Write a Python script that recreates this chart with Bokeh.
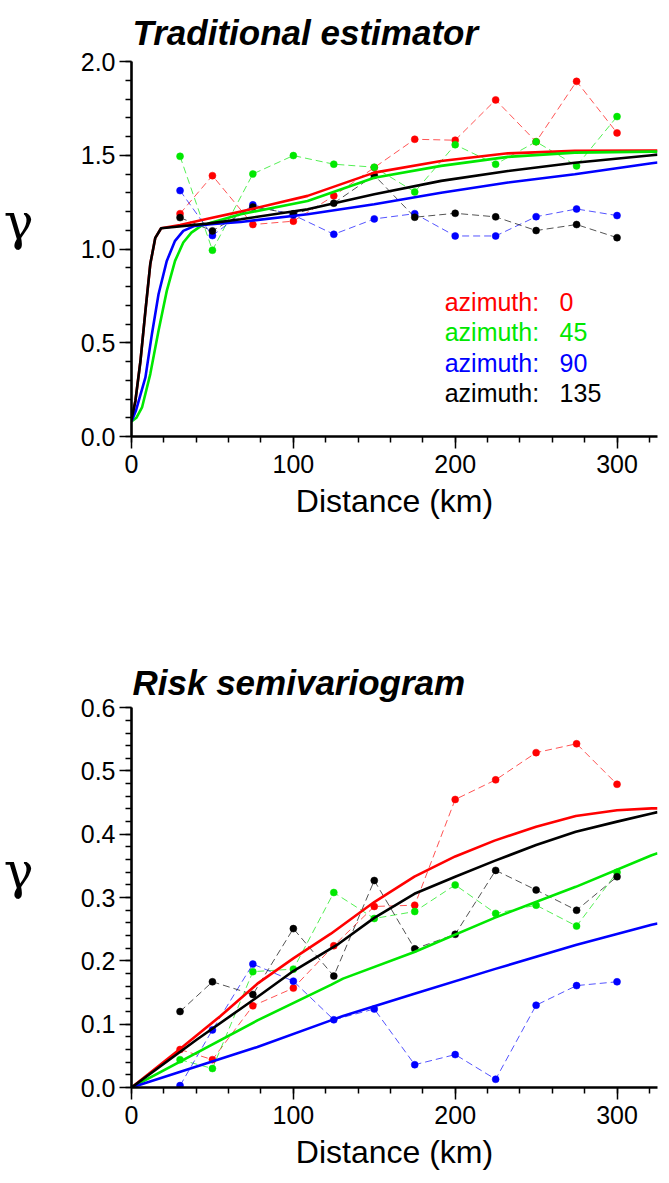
from bokeh.plotting import figure
from bokeh.layouts import column
from bokeh.models import Range1d, SingleIntervalTicker, PrintfTickFormatter
from bokeh.core.properties import value
from bokeh.embed import file_html
from bokeh.resources import INLINE

# ---------------- data ----------------
lags = [30, 50, 75, 100, 125, 150, 175, 200, 225, 250, 275, 300]
azimuths = [0, 45, 90, 135]
colors = ["#ff0000", "#00e800", "#0000ff", "#000000"]

# Traditional estimator: experimental values
trad_obs_0 = [1.189, 1.392, 1.131, 1.149, 1.284, 1.435, 1.586, 1.581, 1.796, 1.573, 1.895, 1.620]
trad_obs_45 = [1.495, 0.994, 1.401, 1.499, 1.453, 1.437, 1.305, 1.557, 1.453, 1.573, 1.444, 1.707]
trad_obs_90 = [1.312, 1.072, 1.236, 1.182, 1.079, 1.161, 1.189, 1.070, 1.070, 1.173, 1.214, 1.179]
trad_obs_135 = [1.168, 1.097, 1.225, 1.188, 1.245, 1.394, 1.170, 1.191, 1.172, 1.099, 1.131, 1.061]

# Traditional estimator: fitted models
trad_fit_x_0 = [0, 2.4, 5.5, 8.6, 11.6, 14.7, 18.3, 30, 47, 67.5, 108.8, 150, 191.3, 232.6, 273.9, 321.4, 325]
trad_fit_y_0 = [0.09, 0.19, 0.40, 0.67, 0.92, 1.06, 1.111, 1.128, 1.162, 1.200, 1.284, 1.408, 1.470, 1.511, 1.524, 1.526, 1.526]
trad_fit_x_45 = [0, 3, 6.5, 11.6, 16.7, 21.8, 26.9, 32, 37, 43, 49, 67.5, 108.8, 150, 191.3, 232.6, 273.9, 321.4, 325]
trad_fit_y_45 = [0.08, 0.10, 0.155, 0.333, 0.564, 0.777, 0.937, 1.035, 1.088, 1.124, 1.141, 1.186, 1.257, 1.381, 1.444, 1.492, 1.515, 1.520, 1.520]
trad_fit_x_90 = [0, 2.7, 8.6, 12.6, 16.7, 21.8, 26.9, 32, 39, 49, 67.5, 108.8, 150, 191.3, 232.6, 273.9, 321.4, 325]
trad_fit_y_90 = [0.08, 0.137, 0.315, 0.546, 0.759, 0.937, 1.044, 1.097, 1.124, 1.133, 1.145, 1.186, 1.239, 1.301, 1.355, 1.399, 1.458, 1.462]
trad_fit_x_135 = [0, 2.4, 5.5, 8.6, 11.6, 14.7, 18.3, 47, 67.5, 108.8, 150, 191.3, 232.6, 273.9, 321.4, 325]
trad_fit_y_135 = [0.09, 0.19, 0.40, 0.67, 0.92, 1.06, 1.111, 1.136, 1.159, 1.213, 1.293, 1.364, 1.417, 1.461, 1.501, 1.504]

# Risk semivariogram: experimental values
risk_obs_0 = [0.060, 0.044, 0.129, 0.157, 0.224, 0.286, 0.288, 0.455, 0.486, 0.529, 0.543, 0.479]
risk_obs_45 = [0.044, 0.030, 0.183, 0.187, 0.308, 0.267, 0.278, 0.320, 0.275, 0.288, 0.255, 0.340]
risk_obs_90 = [0.003, 0.091, 0.195, 0.168, 0.107, 0.124, 0.036, 0.052, 0.013, 0.130, 0.161, 0.167]
risk_obs_135 = [0.120, 0.167, 0.147, 0.251, 0.176, 0.327, 0.219, 0.242, 0.343, 0.312, 0.280, 0.333]

# Risk semivariogram: fitted models
risk_fit_x_0 = [0, 29, 55, 77.8, 100, 123.2, 150, 174.8, 200, 224.3, 250, 274.5, 300, 321.4, 325]
risk_fit_y_0 = [0, 0.059, 0.113, 0.164, 0.204, 0.243, 0.293, 0.333, 0.365, 0.390, 0.412, 0.429, 0.438, 0.441, 0.441]
risk_fit_x_45 = [0, 77.8, 123.2, 130.7, 174.8, 224.3, 274.5, 321.4, 325]
risk_fit_y_45 = [0, 0.106, 0.162, 0.172, 0.214, 0.268, 0.317, 0.367, 0.370]
risk_fit_x_90 = [0, 77.8, 123.2, 130.7, 174.8, 224.3, 274.5, 321.4, 325]
risk_fit_y_90 = [0, 0.064, 0.106, 0.113, 0.148, 0.187, 0.225, 0.257, 0.259]
risk_fit_x_135 = [0, 40, 77.8, 100, 128, 150, 174.8, 200, 224.3, 250, 274.5, 300, 321.4, 325]
risk_fit_y_135 = [0, 0.075, 0.143, 0.184, 0.227, 0.268, 0.306, 0.333, 0.358, 0.383, 0.404, 0.420, 0.433, 0.435]

FONT = "Liberation Sans"


def make_panel(title, obs_list, fit_list, y_max, y_major, y_fmt,
               top_border, frame_h, bottom_border, title_standoff, legend=False):
    p = figure(frame_width=526, frame_height=frame_h,
               min_border_left=131, min_border_right=4,
               min_border_top=top_border, min_border_bottom=bottom_border,
               x_range=Range1d(0, 325), y_range=Range1d(0, y_max * 1.0005),
               output_backend="svg", toolbar_location=None)
    p.outline_line_color = None
    p.grid.visible = False
    p.background_fill_color = "white"
    p.border_fill_color = "white"

    p.title.text = title
    p.title.text_font = FONT
    p.title.text_font_size = "35px"
    p.title.text_font_style = "bold italic"
    p.title.text_color = "black"
    p.title.align = "left"
    p.title.offset = 1
    p.title.standoff = title_standoff

    for obs, col in zip(obs_list, colors):
        p.line(lags, obs, line_color=col, line_width=0.8, line_dash="7 4", line_alpha=0.85)
        p.scatter(lags, obs, size=7, fill_color=col, line_color=col, line_width=0.5)
    for (fx, fy), col in zip(fit_list, colors):
        p.line(fx, fy, line_color=col, line_width=2.6)

    xa = p.xaxis[0]
    xa.ticker = SingleIntervalTicker(interval=100, num_minor_ticks=5)
    xa.axis_label = "Distance (km)"
    xa.axis_label_text_font = FONT
    xa.axis_label_text_font_size = "32px"
    xa.axis_label_text_font_style = "normal"
    xa.axis_label_text_color = "black"
    xa.axis_label_standoff = 7
    xa.major_label_standoff = 6

    ya = p.yaxis[0]
    ya.ticker = SingleIntervalTicker(interval=y_major, num_minor_ticks=5)
    ya.formatter = PrintfTickFormatter(format=y_fmt)
    ya.major_label_standoff = 4
    ya.axis_label = "γ\n "
    ya.axis_label_text_font = "DejaVu Serif"
    ya.axis_label_text_font_size = "50px"
    ya.axis_label_text_font_style = "normal"
    ya.axis_label_text_color = "black"
    ya.axis_label_text_line_height = 0.92
    ya.axis_label_standoff = 44
    try:
        ya.axis_label_orientation = "horizontal"
    except Exception:
        pass

    for ax in (xa, ya):
        ax.axis_line_width = 2.6
        ax.axis_line_color = "black"
        ax.major_tick_line_width = 1.5
        ax.minor_tick_line_width = 1.5
        ax.major_tick_line_color = "black"
        ax.minor_tick_line_color = "black"
        ax.major_tick_out = 12
        ax.major_tick_in = 0
        ax.minor_tick_out = 6
        ax.minor_tick_in = 0
        ax.major_label_text_font = FONT
        ax.major_label_text_font_size = "25px"
        ax.major_label_text_color = "black"

    if legend:
        name_x = 193.5
        num_x = 264.5
        step = y_max * 0.0815
        base = y_max * 0.0335
        for i, (az, col) in enumerate(zip(azimuths, colors)):
            yy = base + step * (len(azimuths) - i)
            p.text(x=[name_x], y=[yy], text=["azimuth:"], text_color=col,
                   text_font=value(FONT), text_font_size="25px",
                   text_baseline="alphabetic", text_align="left")
            p.text(x=[num_x], y=[yy], text=[str(az)], text_color=col,
                   text_font=value(FONT), text_font_size="25px",
                   text_baseline="alphabetic", text_align="left")
    return p


p1 = make_panel("Traditional estimator",
                [trad_obs_0, trad_obs_45, trad_obs_90, trad_obs_135],
                [(trad_fit_x_0, trad_fit_y_0), (trad_fit_x_45, trad_fit_y_45),
                 (trad_fit_x_90, trad_fit_y_90), (trad_fit_x_135, trad_fit_y_135)],
                2.0, 0.5, "%.1f", 61, 375, 192, 20, legend=True)

p2 = make_panel("Risk semivariogram",
                [risk_obs_0, risk_obs_45, risk_obs_90, risk_obs_135],
                [(risk_fit_x_0, risk_fit_y_0), (risk_fit_x_45, risk_fit_y_45),
                 (risk_fit_x_90, risk_fit_y_90), (risk_fit_x_135, risk_fit_y_135)],
                0.6, 0.1, "%.1f", 79, 380, 88, 11)

layout = column(p1, p2, spacing=0)
open("out.html", "w").write(file_html(layout, INLINE))
